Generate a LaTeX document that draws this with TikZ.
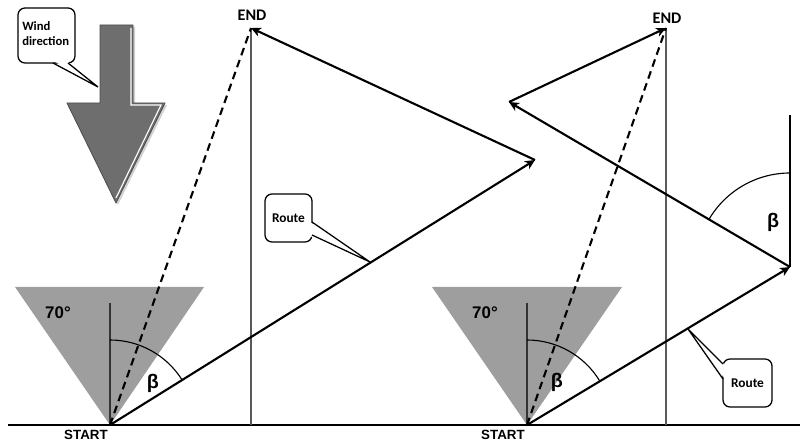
\documentclass[tikz,border=0pt]{standalone}
\usepackage{fontspec}
\setmainfont{Carlito}
\newfontfamily\arialf{Liberation Sans}
\usetikzlibrary{arrows.meta}
\begin{document}
\begin{tikzpicture}[x=0.025cm,y=0.025cm,
  route/.style={line width=1.5pt, -{Stealth[length=7pt,width=6.5pt,inset=2pt]}},
  dashline/.style={line width=1.5pt, dash pattern=on 5.5pt off 3.5pt},
  thinline/.style={line width=0.8pt, draw=black!65},
  tri/.style={fill=black!38, draw=none},
  anglearc/.style={line width=0.8pt},
  callbox/.style={draw, line width=0.9pt, rounded corners=5pt, fill=white, inner sep=0pt, font=\bfseries\fontsize{9.5}{11}\selectfont},
  ptr/.style={line width=0.9pt},
  lbl/.style={font=\arialf\bfseries\fontsize{12}{14}\selectfont, inner sep=0pt},
  betalbl/.style={font=\arialf\bfseries\fontsize{14}{16}\selectfont, inner sep=0pt},
  startlbl/.style={font=\arialf\bfseries\fontsize{9.5}{11}\selectfont, inner sep=0pt},
  endlbl/.style={font=\bfseries\fontsize{11.5}{13}\selectfont, inner sep=0pt}
]
\useasboundingbox (0,0) rectangle (808,441);

% baseline
\draw[line width=1pt] (8,16) -- (800,16);

% ---------------- left diagram ----------------
\coordinate (S1) at (110,16);
\coordinate (R1) at (535,281);
\coordinate (E1) at (251,413);
\coordinate (B1) at (251,16);
\fill[tri] (15,154) -- (204,154) -- (S1) -- cycle;
\draw[line width=1.1pt, black!80] (S1) -- (110,138);
\draw[anglearc] (110,101) arc[start angle=90, end angle=31.9, radius=85];
\node[betalbl] (beta1) at (153,58) {β};
\node[lbl] (deg1) at (58,128) {70°};
\draw[thinline] (B1) -- (E1);
\draw[dashline] (S1) -- (E1);
\draw[route] (S1) -- (R1);
\draw[route] (R1) -- (E1);
\node[startlbl, anchor=base] (start1) at (86,2) {START};
\node[endlbl] (end1) at (252,426) {END};

% Route callout left
\coordinate (t1) at (370,179);
\node[callbox, minimum width=1.175cm, minimum height=1.2cm] (route1) at (288.5,223) {Route};
\fill[white] (310,219) -- (t1) -- (310,205) -- cycle;
\draw[ptr] (312,219) -- (t1) -- (312,206);

% Wind direction callout and arrow
\coordinate (tw) at (98,354);
\node[callbox, minimum width=1.425cm, minimum height=1.375cm] (wind) at (46.5,405.5) {};
\node[font=\bfseries\fontsize{9}{11}\selectfont, align=left, anchor=north west, inner sep=0pt] (windtxt) at (22,420) {Wind\\direction};
\fill[white] (54,380) -- (tw) -- (67,380) -- cycle;
\draw[ptr] (53,378) -- (tw) -- (68,378);

\fill[black!18] (102,414) -- (135,414) -- (135,336) -- (167,336) -- (118,236) -- (116,240) -- cycle;
\draw[fill=black!57, draw=black!70, line width=0.6pt]
  (100,416) -- (133,416) -- (133,338) -- (165,338) -- (116,238) -- (67,338) -- (100,338) -- cycle;
\draw[white, line width=0.8pt] (131,413) -- (131,336) -- (161,336) -- (116,243);

% ---------------- right diagram ----------------
\coordinate (S2) at (527,16);
\coordinate (R2) at (790,174);
\coordinate (R3) at (509,339);
\coordinate (E2) at (666,413);
\coordinate (B2) at (666,16);
\coordinate (V2) at (790,326);
\fill[tri] (432,154) -- (622,154) -- (S2) -- cycle;
\draw[line width=1.1pt, black!80] (S2) -- (527,138);
\draw[anglearc] (527,101) arc[start angle=90, end angle=31.0, radius=85];
\node[betalbl] (beta2) at (557,59) {β};
\node[lbl] (deg2) at (485,128) {70°};
\draw[thinline] (B2) -- (E2);
\draw[dashline] (S2) -- (E2);
\draw[line width=1pt] (R2) -- (V2);
\draw[anglearc] (790,268) arc[start angle=90, end angle=149.6, radius=94];
\node[betalbl] (beta3) at (773,219) {β};
\draw[route] (S2) -- (R2);
\draw[route] (R2) -- (R3);
\draw[route] (R3) -- (E2);
\node[startlbl, anchor=base] (start2) at (503,2) {START};
\node[endlbl] (end2) at (667,423) {END};

% Route callout right
\coordinate (t2) at (688,112);
\node[callbox, minimum width=1.225cm, minimum height=1.2cm] (route2) at (747.5,58) {Route};
\fill[white] (725,76) -- (t2) -- (725,62) -- cycle;
\draw[ptr] (723,77) -- (t2) -- (723,62);
\end{tikzpicture}
\end{document}
